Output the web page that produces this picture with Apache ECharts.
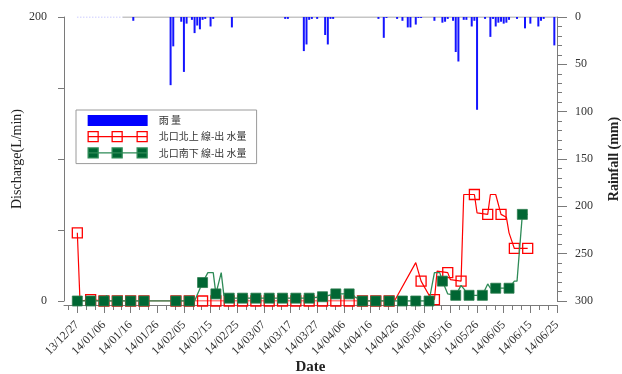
<!DOCTYPE html>
<html>
<head>
<meta charset="utf-8">
<script src="https://cdn.jsdelivr.net/npm/echarts@6/dist/echarts.min.js"></script>
<style>
  html, body { margin: 0; padding: 0; background: #fff; }
  #chart { width: 622px; height: 374px; }
</style>
</head>
<body>
<div id="chart"></div>
<script>
// Day offsets are counted from 2013-12-27.
const ORIGIN = Date.UTC(2013, 11, 27);
const DAY_MS = 86400000;

// Date tick labels (every 10 days)
const dateTickDays = [0, 10, 20, 30, 40, 50, 60, 70, 80, 90, 100, 110, 120, 130, 140, 150, 160, 170, 180];

// Daily rainfall (mm)
const rainDays = [21, 35, 36, 39, 40, 41, 43, 44, 45, 46, 47, 48, 50, 51, 58, 78, 79, 85, 86, 87, 88, 90, 93, 94, 95, 96,
  113, 115, 116, 120, 122, 124, 125, 127, 128, 129, 134, 137, 138, 139, 141, 142, 143, 145, 146, 148, 149, 150,
  153, 155, 156, 157, 158, 159, 160, 161, 162, 165, 168, 170, 173, 174, 175, 179];
const rainMm = [4, 72, 31, 5, 58, 7, 3, 17, 9, 13, 3, 2, 10, 2, 11, 2, 2, 36, 29, 3, 2, 2, 19, 29, 2, 2,
  2, 22, 1, 2, 4, 11, 11, 8, 1, 1, 4, 6, 5, 2, 4, 37, 47, 3, 3, 10, 4, 98,
  2, 21, 2, 10, 6, 5, 7, 6, 3, 2, 12, 7, 10, 4, 2, 30];

// 北口北上 outflow (L/min); marked = measured sample shown with a square
const northDays = [0, 1, 5, 10, 15, 20, 25, 37, 42, 47, 52, 57, 62, 67, 72, 77, 82, 87, 92, 97, 102, 107, 112, 117,
  119, 127, 129, 132, 134, 135, 139, 140, 144, 145, 149, 150, 154, 155, 157, 159, 161, 162, 164, 169];
const northFlow = [48, 0, 1, 0, 0, 0, 0, 0, 0, 0, 0, 0, 0, 0, 0, 0, 0, 0, 0, 0, 0, 0, 0, 0,
  0, 27, 14, 4, 1, 21, 20, 15, 14, 75, 75, 62, 61, 75, 75, 61, 59, 48, 37, 37];
const northMarked = [1, 0, 1, 1, 1, 1, 1, 1, 1, 1, 1, 1, 1, 1, 1, 1, 1, 1, 1, 1, 1, 1, 1, 1,
  0, 0, 1, 0, 1, 0, 1, 0, 1, 0, 1, 0, 1, 0, 0, 1, 0, 0, 1, 1];

// 北口南下 outflow (L/min)
const southDays = [0, 5, 10, 11, 12, 15, 20, 25, 37, 42, 44, 47, 49, 51, 52, 54, 55, 57, 62, 67, 72, 77, 82, 87, 92,
  97, 102, 107, 112, 117, 122, 127, 132, 134, 136, 137, 139, 142, 144, 147, 152, 154, 155, 157, 162, 164, 165, 167, 169];
const southFlow = [0, 0, 0, 4, 0, 0, 0, 0, 0, 0, 0, 13, 20, 20, 5, 20, 4, 2, 2, 2, 2, 2, 2, 2, 3,
  5, 5, 0, 0, 0, 0, 0, 0, 20, 20, 14, 5, 4, 11, 4, 4, 12, 9, 9, 9, 14, 14, 61, 61];
const southMarked = [1, 1, 1, 0, 0, 1, 1, 1, 1, 1, 0, 1, 0, 0, 1, 0, 0, 1, 1, 1, 1, 1, 1, 1, 1,
  1, 1, 1, 1, 1, 1, 1, 1, 0, 0, 1, 0, 1, 0, 1, 1, 0, 0, 1, 1, 0, 0, 1, 0];

// Rain record span: first days without gauge readings, then the gauge baseline
const rainGapDays = [0, 17];
const rainBaseDays = [17, 180];

const X_MIN = -5, X_MAX = 180;
const minorTickDays = [];
for (let i = -1; i <= 54; i++) {
  const d = i * 10 / 3;
  if (i % 3 !== 0 && d > X_MIN && d < X_MAX) minorTickDays.push(d);
}

function fmtDate(d) {
  const t = new Date(ORIGIN + Math.round(d) * DAY_MS);
  const p = n => String(n).padStart(2, '0');
  return p(t.getUTCFullYear() % 100) + '/' + p(t.getUTCMonth() + 1) + '/' + p(t.getUTCDate());
}

function flowData(days, vals, marked) {
  return days.map((d, i) => marked[i] ? [d, vals[i]] : { value: [d, vals[i]], symbol: 'none' });
}

const SERIF = 'Liberation Serif';
const CJK = 'Noto Sans CJK TC';
const AXIS_COLOR = '#7a7a7a';
const TEXT_COLOR = '#333';

const chart = echarts.init(document.getElementById('chart'), null, { renderer: 'canvas' });

chart.setOption({
  animation: false,
  backgroundColor: '#fff',
  grid: { left: 64, right: 65, top: 17, bottom: 73, outerBoundsMode: 'none' },
  legend: {
    orient: 'vertical',
    left: 76, top: 110,
    itemWidth: 60, itemHeight: 11, itemGap: 5,
    padding: [5, 10, 5, 11],
    borderColor: '#9a9a9a', borderWidth: 1, borderRadius: 0,
    backgroundColor: '#fff',
    textStyle: { fontFamily: CJK, fontSize: 10, color: TEXT_COLOR, padding: [0, 0, 0, 6] },
    selectedMode: false,
    data: [
      { name: '雨 量', icon: 'rect', itemStyle: { color: '#0000ff' } },
      { name: '北口北上 線-出 水量',
        icon: 'path://M0.5,0.5H10.5V10.5H0.5Z M24.5,0.5H34.5V10.5H24.5Z M49.5,0.5H59.5V10.5H49.5Z M0,5.5H60',
        itemStyle: { color: '#fff', borderColor: '#ff0000', borderWidth: 1.3 } },
      { name: '北口南下 線-出 水量',
        icon: 'path://M0.5,0.5H10.5V10.5H0.5Z M24.5,0.5H34.5V10.5H24.5Z M49.5,0.5H59.5V10.5H49.5Z M0,5.5H60',
        itemStyle: { color: '#006633', borderColor: '#2e8b57', borderWidth: 1.3 } }
    ]
  },
  xAxis: [
    {
      type: 'value', min: X_MIN, max: X_MAX, position: 'bottom', offset: 4,
      name: 'Date', nameLocation: 'middle', nameGap: 55, nameMoveOverlap: false,
      nameTextStyle: { fontFamily: SERIF, fontSize: 15, fontWeight: 'bold', color: '#222' },
      axisLine: { show: true, onZero: false, lineStyle: { color: AXIS_COLOR, width: 1 } },
      axisTick: { show: true, customValues: dateTickDays, length: 8, lineStyle: { color: AXIS_COLOR } },
      axisLabel: {
        customValues: dateTickDays, rotate: 45, margin: 18,
        fontFamily: SERIF, fontSize: 12, color: TEXT_COLOR,
        formatter: v => fmtDate(v)
      },
      splitLine: { show: false }
    },
    {
      type: 'value', min: X_MIN, max: X_MAX, position: 'bottom', offset: 4,
      axisLine: { show: false, onZero: false },
      axisTick: { show: true, customValues: minorTickDays, length: 5, lineStyle: { color: AXIS_COLOR } },
      axisLabel: { show: false },
      splitLine: { show: false }
    }
  ],
  yAxis: [
    {
      type: 'value', position: 'left', min: 0, max: 200, interval: 50,
      name: 'Discharge(L/min)', nameLocation: 'middle', nameGap: 40, nameMoveOverlap: false,
      nameTextStyle: { fontFamily: SERIF, fontSize: 14, color: '#222' },
      axisLine: { show: true, onZero: false, lineStyle: { color: AXIS_COLOR, width: 1 } },
      axisTick: { show: true, length: 6, lineStyle: { color: AXIS_COLOR } },
      axisLabel: {
        margin: 17, fontFamily: SERIF, fontSize: 12, color: TEXT_COLOR,
        formatter: v => (v === 0 || v === 200) ? String(v) : ''
      },
      splitLine: { show: false }
    },
    {
      type: 'value', position: 'right', min: 0, max: 300, interval: 50, inverse: true,
      name: 'Rainfall (mm)', nameLocation: 'middle', nameGap: 50, nameMoveOverlap: false,
      nameTextStyle: { fontFamily: SERIF, fontSize: 14, fontWeight: 'bold', color: '#222' },
      axisLine: { show: true, onZero: false, lineStyle: { color: AXIS_COLOR, width: 1 } },
      axisTick: { show: true, length: 10, lineStyle: { color: AXIS_COLOR } },
      minorTick: { show: true, splitNumber: 5, length: 5, lineStyle: { color: AXIS_COLOR } },
      axisLabel: { margin: 18, fontFamily: SERIF, fontSize: 12, color: TEXT_COLOR },
      splitLine: { show: false },
      minorSplitLine: { show: false }
    }
  ],
  series: [
    {
      name: '雨 量', type: 'bar', xAxisIndex: 0, yAxisIndex: 1,
      barWidth: 2, itemStyle: { color: '#1414ff' },
      data: rainDays.map((d, i) => [d, rainMm[i]]), z: 2
    },
    {
      name: 'rain-gap', type: 'line', xAxisIndex: 0, yAxisIndex: 1, symbol: 'none', silent: true,
      lineStyle: { color: '#9a9aff', width: 1, type: [1, 2] },
      data: rainGapDays.map(d => [d, 0]), z: 1
    },
    {
      name: 'rain-base', type: 'line', xAxisIndex: 0, yAxisIndex: 1, symbol: 'none', silent: true,
      lineStyle: { color: '#8c8c8c', width: 1 },
      data: rainBaseDays.map(d => [d, 0]), z: 1
    },
    {
      name: '北口北上 線-出 水量', type: 'line', xAxisIndex: 0, yAxisIndex: 0,
      symbol: 'rect', symbolSize: 10,
      lineStyle: { color: '#ff0000', width: 1.2 },
      itemStyle: { color: 'rgba(255,255,255,0)', borderColor: '#ff0000', borderWidth: 1.3 },
      data: flowData(northDays, northFlow, northMarked), z: 3
    },
    {
      name: '北口南下 線-出 水量', type: 'line', xAxisIndex: 0, yAxisIndex: 0,
      symbol: 'rect', symbolSize: 10,
      lineStyle: { color: '#2e8b57', width: 1.3 },
      itemStyle: { color: '#006633', borderColor: '#2e7d4f', borderWidth: 0.8 },
      data: flowData(southDays, southFlow, southMarked), z: 4
    }
  ]
});
</script>
</body>
</html>
